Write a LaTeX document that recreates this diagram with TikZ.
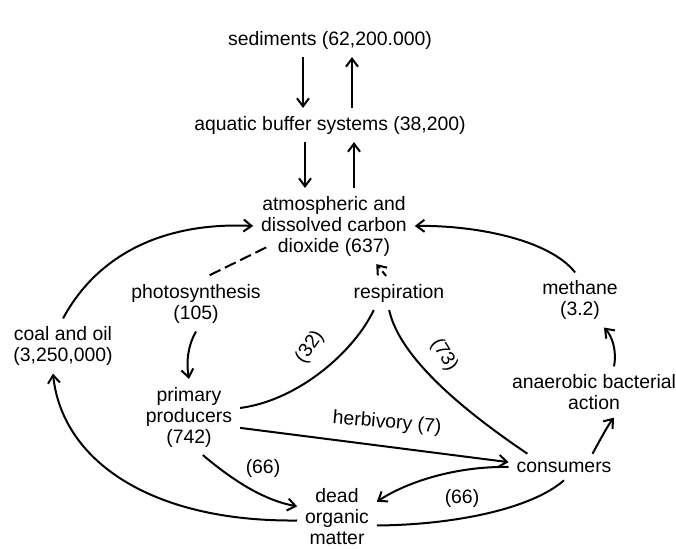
\documentclass[tikz,border=0pt]{standalone}
\usepackage{fontspec}
\setmainfont{Liberation Sans}
\usetikzlibrary{arrows.meta,calc}

\tikzset{every picture/.style={line width=1pt}}
\tikzset{
  pool/.style={align=center, inner sep=3.5pt, font=\fontsize{9.7}{10.5}\selectfont},
  rate/.style={inner sep=1pt, font=\fontsize{9.7}{10.5}\selectfont},
  flux/.style={-{Straight Barb[length=4pt,width=6pt]}},
}

\begin{document}
\begin{tikzpicture}[x=0.5pt,y=0.5pt,yscale=-1,xscale=1]
\useasboundingbox (0,0) rectangle (676,548);

% Text Node
\node[pool] (sed) at (330,40) {sediments (62,200.000)};
% Text Node
\node[pool] (aqua) at (330,125) {aquatic buffer systems (38,200)};
% Text Node
\node[pool] (atm) at (334,226) {atmospheric and\\dissolved carbon\\dioxide (637)};
% Text Node
\node[pool] (photo) at (196,304) {photosynthesis\\(105)};
% Text Node
\node[pool] (resp) at (399,293) {respiration};
% Text Node
\node[pool] (meth) at (580,300) {methane\\(3.2)};
% Text Node
\node[pool] (coal) at (63,346) {coal and oil\\(3,250,000)};
% Text Node
\node[pool] (prod) at (189,417) {primary\\producers\\(742)};
% Text Node
\node[pool] (anaer) at (594,392) {anaerobic bacterial\\action};
% Text Node
\node[pool] (cons) at (564,467) {consumers};
% Text Node
\node[pool] (dead) at (337,517) {dead\\organic\\matter};

%Straight Lines
\draw[flux] (sed.south -| 303,0) -- (aqua.north -| 303,0);
\draw[flux] (aqua.north -| 352,0) -- (sed.south -| 352,0);
\draw[flux] (aqua.south -| 305,0) -- (atm.north -| 305,0);
\draw[flux] (atm.north -| 354,0) -- (aqua.south -| 354,0);

%Curve Lines
\draw[flux] (coal.north) .. controls (100,250) and (170,222) .. (atm.west);
\draw[flux] (meth.100) .. controls (548,238) and (470,225) .. (atm.east);
\draw[dash pattern=on 6pt off 2.5pt] ($(atm.200)+(13,-8)$) -- (photo.68);
\draw[flux] (photo.south) .. controls (188,345) and (186,362) .. (prod.north);
\draw[flux,densely dashed] (resp.127) -- (atm.318);

%Curve Lines
\draw (prod.10) .. controls (300,400) and (355,350) .. (resp.214);
\draw (resp.240) .. controls (400,360) and (470,415) .. (cons.160);
\draw[flux] (prod.348) -- (cons.175);
\draw[flux] (prod.290) .. controls (230,478) and (262,500) .. (dead.165);
\draw[flux] (cons.west) .. controls (460,466) and (410,480) .. (dead.21);
\draw (dead.-12) .. controls (450,525) and (530,510) .. (cons.south);
\draw[flux] (dead.185) .. controls (150,522) and (62,460) .. (coal.250);
\draw[flux] (cons.25) .. controls (600,440) and (608,425) .. (anaer.308);
\draw[flux] (anaer.52) .. controls (617,350) and (612,336) .. (meth.311);

% Text Node
\node[rate, rotate=55] (r32) at (310,347) {(32)};
% Text Node
\node[rate, rotate=-58] (r73) at (444,355) {(73)};
% Text Node
\node[rate, rotate=-5] (herb) at (387,423) {herbivory (7)};
% Text Node
\node[rate] (r66a) at (263,468) {(66)};
% Text Node
\node[rate] (r66b) at (462,498) {(66)};

\end{tikzpicture}
\end{document}
